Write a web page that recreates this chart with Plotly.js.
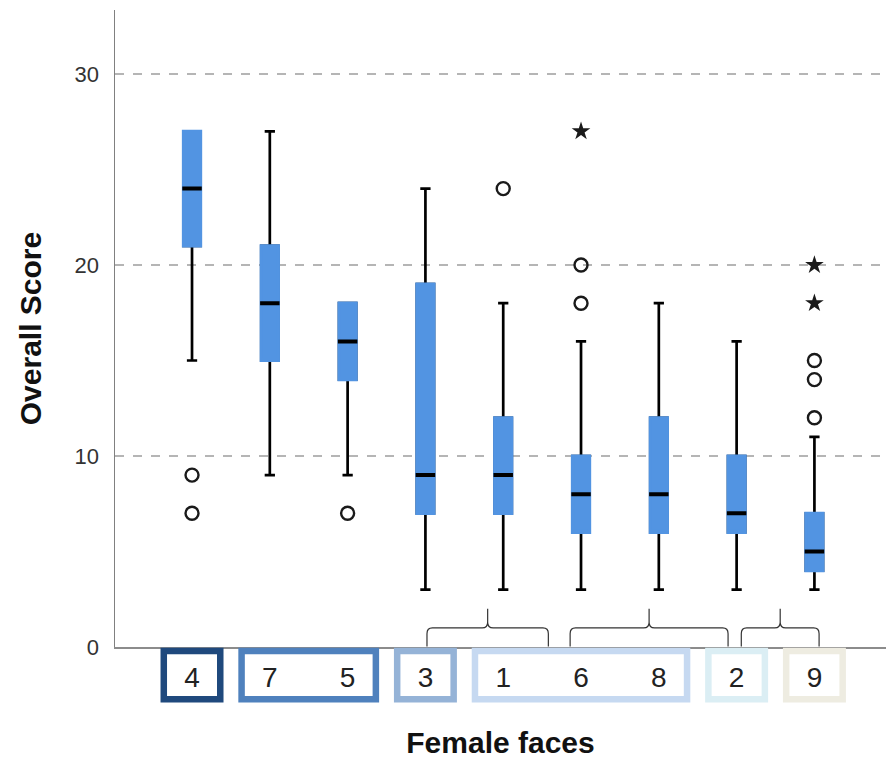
<!DOCTYPE html>
<html>
<head>
<meta charset="utf-8">
<script src="https://cdn.plot.ly/plotly-3.0.1.min.js"></script>
<style>
  html, body { margin: 0; padding: 0; background: #ffffff; }
  #chart { width: 886px; height: 761px; }
</style>
</head>
<body>
<div id="chart"></div>
<script>
// ---- data ----
var categories     = ['4', '7', '5', '3', '1', '6', '8', '2', '9'];
var lowerWhisker   = [15,  9,  9,  3,  3,  3,  3,  3,  3];
var q1Values       = [21, 15, 14,  7,  7,  6,  6,  6,  4];
var medianValues   = [24, 18, 16,  9,  9,  8,  8,  7,  5];
var q3Values       = [27, 21, 18, 19, 12, 10, 12, 10,  7];
var upperWhisker   = [27, 27, 18, 24, 18, 16, 18, 16, 11];

// outliers (circles) and extremes (stars)
var outlierCat     = ['4', '4', '5', '1', '6', '6', '9', '9', '9'];
var outlierValue   = [ 9,   7,   7,  24,  20,  18,  15,  14,  12];
var extremeCat     = ['6', '9', '9'];
var extremeValue   = [27,  20,  18];

// grouping frames under the axis (homogeneous subsets)
var groupMembers   = [['4'], ['7', '5'], ['3'], ['1', '6', '8'], ['2'], ['9']];
var groupColors    = ['#1F497D', '#4F81BD', '#95B3D7', '#C6D9F1', '#DBEEF4', '#EEECE1'];

// braces above the axis (start / end positions, category units)
var braceStart     = [3.02, 4.86, 7.06];
var braceEnd       = [4.58, 6.89, 8.06];

var yTickValues    = [0, 10, 20, 30];

// ---- build ----
var BOX_BLUE = '#5294E2';
var pos = categories.map(function (c, i) { return i; });
function idx(c) { return categories.indexOf(c); }

var traces = [];

// 1: whiskers (black), box filled
traces.push({
  type: 'box', x: pos,
  q1: q1Values, median: medianValues, q3: q3Values,
  lowerfence: lowerWhisker, upperfence: upperWhisker,
  boxpoints: false, width: 0.22, whiskerwidth: 0.6,
  fillcolor: BOX_BLUE, line: { color: '#000000', width: 2.7 },
  hoverinfo: 'skip', showlegend: false
});
// 2: cover box outline with the fill colour
traces.push({
  type: 'box', x: pos,
  q1: q1Values, median: q1Values, q3: q3Values,
  lowerfence: q1Values, upperfence: q3Values,
  boxpoints: false, width: 0.22, whiskerwidth: 0,
  fillcolor: BOX_BLUE, line: { color: BOX_BLUE, width: 3.2 },
  hoverinfo: 'skip', showlegend: false
});
// 3: median bars
traces.push({
  type: 'box', x: pos,
  q1: medianValues, median: medianValues, q3: medianValues,
  lowerfence: medianValues, upperfence: medianValues,
  boxpoints: false, width: 0.25, whiskerwidth: 0,
  fillcolor: '#000000', line: { color: '#000000', width: 4 },
  hoverinfo: 'skip', showlegend: false
});
// outliers
traces.push({
  type: 'scatter', mode: 'markers',
  x: outlierCat.map(idx), y: outlierValue,
  marker: { symbol: 'circle-open', size: 13, color: '#1a1a1a', line: { width: 2.4, color: '#1a1a1a' } },
  hoverinfo: 'skip', showlegend: false
});
// extremes
traces.push({
  type: 'scatter', mode: 'markers',
  x: extremeCat.map(idx), y: extremeValue,
  marker: { symbol: 'star', size: 14, color: '#1a1a1a', line: { width: 0 } },
  hoverinfo: 'skip', showlegend: false
});

var shapes = [];
var HALF = 0.363;
groupMembers.forEach(function (g, k) {
  shapes.push({
    type: 'rect', xref: 'x', yref: 'paper',
    x0: idx(g[0]) - HALF, x1: idx(g[g.length - 1]) + HALF,
    y0: -0.0062, y1: -0.0822,
    line: { color: groupColors[k], width: 6.5 },
    fillcolor: 'rgba(0,0,0,0)', layer: 'above'
  });
});
braceStart.forEach(function (x0, k) {
  var x1 = braceEnd[k];
  var xm = (x0 + x1) / 2;
  var rx = 0.07, ry = 0.3;
  var p = 'M' + x0 + ',0.02 L' + x0 + ',' + (1 - ry) +
          ' Q' + x0 + ',1 ' + (x0 + rx) + ',1' +
          ' L' + (xm - rx) + ',1' +
          ' Q' + xm + ',1 ' + xm + ',' + (1 + ry) +
          ' L' + xm + ',2' +
          ' M' + xm + ',' + (1 + ry) +
          ' Q' + xm + ',1 ' + (xm + rx) + ',1' +
          ' L' + (x1 - rx) + ',1' +
          ' Q' + x1 + ',1 ' + x1 + ',' + (1 - ry) +
          ' L' + x1 + ',0.02';
  shapes.push({
    type: 'path', xref: 'x', yref: 'y', path: p,
    line: { color: '#333333', width: 1.2 }, layer: 'above'
  });
});

var layout = {
  width: 886, height: 761,
  margin: { l: 115, r: 0, t: 10, b: 114 },
  paper_bgcolor: '#ffffff', plot_bgcolor: '#ffffff',
  font: { family: 'Liberation Sans, Arial, sans-serif', color: '#222222' },
  boxmode: 'overlay',
  showlegend: false,
  xaxis: {
    type: 'linear', range: [-0.99, 8.92],
    tickmode: 'array', tickvals: pos, ticktext: categories,
    ticks: '', showgrid: false, zeroline: false,
    showline: true, linecolor: '#8c8c8c', linewidth: 2,
    tickfont: { size: 28, color: '#222222' },
    ticklabelstandoff: 4,
    title: { text: 'Female faces', font: { size: 30, color: '#111111', family: 'Liberation Sans, Arial, sans-serif', weight: 'bold' }, standoff: 40 },
    automargin: false, fixedrange: true
  },
  yaxis: {
    range: [0, 33.35],
    tickmode: 'array', tickvals: yTickValues,
    ticks: '', showgrid: true, gridcolor: '#b5b5b5', gridwidth: 1.5, griddash: 'dash',
    zeroline: false,
    showline: true, linecolor: '#808080', linewidth: 1.5,
    tickfont: { size: 22, color: '#333333' },
    ticklabelstandoff: 10,
    title: { text: 'Overall Score', font: { size: 30, color: '#111111', family: 'Liberation Sans, Arial, sans-serif', weight: 'bold' }, standoff: 24 },
    automargin: false, fixedrange: true
  },
  shapes: shapes
};

Plotly.newPlot('chart', traces, layout, { displayModeBar: false, staticPlot: true });
</script>
</body>
</html>
